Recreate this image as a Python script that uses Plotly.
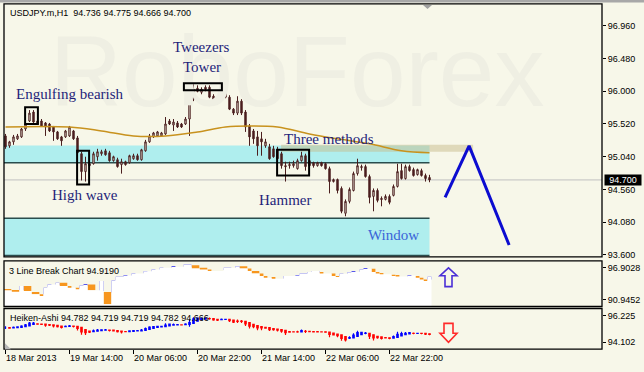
import plotly.graph_objects as go

W, H = 644, 372
BG = "#f7f7e9"
CANDLE = "#4b1e1e"
CYAN = "#afeeee"
TEAL = "#2a4d4d"
FONT = "Liberation Sans, Arial, sans-serif"
SERIF = "Liberation Serif, Times New Roman, serif"


def px(x):
    return x / W


def py(y):
    return 1 - y / H


# ---------------- data ----------------
bar_idx = list(range(107))
open_ = [95.345, 95.200, 95.258, 95.302, 95.331, 95.447, 95.564, 95.695, 95.564, 95.564,
         95.535, 95.520, 95.476, 95.404, 95.331, 95.331, 95.345, 95.418, 95.316, 95.084,
         94.822, 94.938, 94.938, 95.040, 95.084, 95.127, 95.098, 94.982, 94.996, 94.924,
         94.967, 94.953, 95.011, 95.055, 94.996, 95.127, 95.258, 95.331, 95.345, 95.345,
         95.374, 95.564, 95.505, 95.535, 95.520, 95.520, 95.593, 95.884, 96.044, 95.985,
         96.058, 96.058, 95.927, 95.825, 95.913, 95.971, 95.913, 95.738, 95.680, 95.855,
         95.695, 95.491, 95.418, 95.331, 95.302, 95.200, 95.185, 95.156, 95.142, 95.084,
         94.909, 94.909, 94.909, 94.865, 94.982, 95.055, 94.982, 94.953, 94.909, 94.953,
         94.938, 94.865, 94.676, 94.705, 94.575, 94.211, 94.385, 94.545, 94.793, 94.880,
         94.895, 94.749, 94.458, 94.545, 94.429, 94.414, 94.458, 94.473, 94.604, 94.836,
         94.720, 94.895, 94.851, 94.778, 94.836, 94.764, 94.736]
high_ = [95.374, 95.273, 95.360, 95.374, 95.462, 95.564, 95.724, 95.724, 95.593, 95.593,
         95.549, 95.535, 95.491, 95.418, 95.345, 95.433, 95.491, 95.433, 95.345, 95.113,
         95.040, 94.967, 95.113, 95.156, 95.142, 95.156, 95.127, 95.055, 95.025, 95.011,
         94.982, 95.069, 95.084, 95.084, 95.156, 95.287, 95.374, 95.404, 95.418, 95.404,
         95.622, 95.593, 95.593, 95.564, 95.535, 95.622, 95.913, 96.102, 96.087, 96.058,
         96.087, 96.087, 95.956, 95.927, 96.000, 95.985, 95.942, 95.753, 95.927, 95.884,
         95.724, 95.520, 95.447, 95.418, 95.404, 95.302, 95.229, 95.200, 95.185, 95.113,
         94.967, 94.967, 94.982, 95.011, 95.113, 95.084, 95.011, 94.967, 94.967, 94.967,
         94.953, 94.895, 94.720, 94.720, 94.604, 94.414, 94.589, 94.822, 95.011, 94.924,
         94.924, 94.778, 94.575, 94.575, 94.458, 94.487, 94.487, 94.633, 94.938, 94.938,
         94.924, 94.924, 94.880, 94.865, 94.865, 94.793, 94.775]
low_ = [95.156, 95.171, 95.215, 95.287, 95.316, 95.418, 95.549, 95.535, 95.505, 95.476,
        95.345, 95.404, 95.273, 95.287, 95.200, 95.316, 95.331, 95.287, 95.040, 94.691,
        94.676, 94.836, 94.924, 94.982, 95.055, 95.055, 94.967, 94.967, 94.880, 94.792,
        94.909, 94.938, 94.996, 94.982, 94.982, 95.113, 95.244, 95.316, 95.331, 95.331,
        95.360, 95.505, 95.418, 95.462, 95.462, 95.505, 95.345, 95.855, 95.985, 95.956,
        96.000, 95.898, 95.825, 95.811, 95.898, 95.898, 95.724, 95.651, 95.651, 95.651,
        95.404, 95.200, 95.229, 95.055, 95.055, 95.171, 94.996, 95.025, 94.967, 94.865,
        94.676, 94.865, 94.880, 94.851, 94.967, 94.836, 94.895, 94.880, 94.895, 94.895,
        94.851, 94.502, 94.662, 94.502, 94.211, 94.167, 94.356, 94.531, 94.764, 94.836,
        94.734, 94.356, 94.240, 94.371, 94.313, 94.400, 94.342, 94.458, 94.589, 94.705,
        94.705, 94.822, 94.749, 94.764, 94.749, 94.676, 94.666]
close_ = [95.185, 95.258, 95.331, 95.345, 95.447, 95.520, 95.680, 95.549, 95.520, 95.491,
          95.476, 95.418, 95.404, 95.302, 95.273, 95.418, 95.476, 95.302, 95.098, 94.822,
          94.938, 94.909, 95.084, 95.113, 95.113, 95.069, 94.982, 95.040, 94.895, 94.967,
          94.924, 95.055, 95.055, 94.996, 95.142, 95.258, 95.345, 95.389, 95.404, 95.389,
          95.520, 95.520, 95.549, 95.476, 95.476, 95.593, 95.884, 96.029, 96.000, 96.029,
          96.029, 95.913, 95.855, 95.898, 95.942, 95.913, 95.738, 95.680, 95.855, 95.680,
          95.476, 95.331, 95.302, 95.200, 95.258, 95.258, 95.011, 95.040, 95.011, 94.909,
          94.895, 94.924, 94.938, 94.982, 95.055, 94.895, 94.909, 94.909, 94.953, 94.909,
          94.865, 94.676, 94.705, 94.545, 94.240, 94.385, 94.560, 94.793, 94.909, 94.895,
          94.749, 94.444, 94.545, 94.400, 94.414, 94.458, 94.371, 94.604, 94.822, 94.720,
          94.895, 94.836, 94.764, 94.851, 94.764, 94.720, 94.700]

ma_idx = [0, 16, 24, 32, 40, 48, 55, 61, 68, 76, 83, 91, 99, 106]
ma_val = [95.476, 95.476, 95.418, 95.345, 95.345, 95.404, 95.476, 95.491, 95.476,
          95.374, 95.302, 95.229, 95.127, 95.098]

zone_sr = [94.953, 95.205]
zone_window = [93.593, 94.138]
zone_tan = [95.113, 95.215]
zone_tan_idx = [68.9, 116.9]
zone_end_idx = 106.0
last_price = 94.700

zig_idx = [109.9, 115.9, 125.9]
zig_val = [94.444, 95.200, 93.745]

price_ticks = [93.600, 94.080, 94.560, 95.040, 95.520, 96.000, 96.480, 96.960]
lb_ticks = [90.9452, 96.9028]
ha_ticks = [94.102, 96.225]

time_idx = [0, 16, 32, 48, 64, 80, 96]
time_txt = ["18 Mar 2013", "19 Mar 14:00", "20 Mar 06:00", "20 Mar 22:00",
            "21 Mar 14:00", "22 Mar 06:00", "22 Mar 22:00"]

# 3 Line Break bricks
lb_start = [0, 2, 4, 5, 7, 9, 10, 11, 13, 14, 16, 18, 19, 20, 21, 24, 25, 27, 28, 30,
            32, 35, 37, 39, 42, 45, 47, 49, 51, 55, 58, 59, 61, 62, 64, 65, 67, 70, 73, 74,
            76, 77, 79, 82, 83, 84, 86, 87, 89, 90, 92, 93, 94, 97, 98, 101, 103, 104, 105, 106]
lb_end = [1, 3, 4, 6, 8, 9, 10, 11, 13, 15, 16, 18, 19, 20, 22, 24, 26, 27, 29, 30,
          32, 35, 37, 39, 42, 46, 48, 50, 51, 56, 58, 60, 61, 63, 64, 65, 67, 70, 73, 75,
          76, 78, 79, 82, 83, 84, 86, 87, 89, 90, 92, 93, 94, 97, 98, 101, 103, 104, 105, 106]
lb_hi = [92.902, 92.717, 93.528, 93.528, 92.422, 91.980, 93.215, 93.824, 94.137, 94.137,
         93.528, 93.215, 93.639, 93.768, 93.824, 94.450, 92.422, 94.561, 95.243, 95.483,
         95.852, 96.258, 96.590, 96.903, 97.087, 97.512, 97.401, 96.903, 96.590, 96.903,
         97.216, 97.216, 96.774, 96.294, 95.852, 95.373, 95.059, 95.373, 95.483, 95.852,
         96.110, 96.294, 96.110, 95.852, 95.373, 95.797, 96.073, 96.165, 96.590, 96.719,
         96.719, 96.110, 95.889, 95.612, 95.428, 95.483, 95.243, 95.059, 94.745, 95.243]
lb_lo = [92.717, 92.477, 92.791, 92.606, 91.980, 91.685, 91.980, 93.399, 93.824, 93.528,
         93.215, 92.902, 93.086, 93.639, 92.717, 92.606, 90.135, 92.293, 94.561, 95.243,
         95.483, 95.852, 96.258, 96.590, 96.903, 97.216, 96.774, 96.590, 96.294, 96.479,
         96.903, 96.774, 96.294, 95.852, 95.373, 95.059, 94.875, 94.875, 95.373, 95.557,
         95.852, 96.110, 95.852, 95.373, 95.188, 95.483, 95.889, 95.981, 96.294, 96.534,
         96.110, 95.852, 95.704, 95.373, 95.299, 95.243, 95.059, 94.745, 94.450, 94.745]
lb_up = [0, 0, 1, 0, 0, 0, 1, 1, 1, 0, 0, 0, 1, 1, 0, 1, 0, 1, 1, 1,
         1, 1, 1, 1, 1, 1, 0, 0, 0, 1, 1, 0, 0, 0, 0, 0, 0, 1, 1, 1,
         1, 1, 0, 0, 0, 1, 1, 1, 1, 1, 0, 0, 0, 0, 0, 1, 0, 0, 0, 1]

# ---------------- Heiken-Ashi from the price data ----------------
ha_open, ha_close, ha_high, ha_low = [], [], [], []
for i in range(len(bar_idx)):
    c = (open_[i] + high_[i] + low_[i] + close_[i]) / 4
    o = (open_[i] + close_[i]) / 2 if i == 0 else (ha_open[-1] + ha_close[-1]) / 2
    ha_open.append(o)
    ha_close.append(c)
    ha_high.append(max(high_[i], o, c))
    ha_low.append(min(low_[i], o, c))

fig = go.Figure()

# watermark (very faint, behind everything)
fig.add_trace(go.Scatter(x=[72.9], y=[96.15], mode="text", text=["RoboForex"],
                         textposition="middle center",
                         textfont=dict(size=100, color="#efefe3", family=FONT),
                         hoverinfo="skip", xaxis="x", yaxis="y"))

# moving average
fig.add_trace(go.Scatter(x=ma_idx, y=ma_val, mode="lines", line=dict(color="#c8921e", width=1.5, shape="spline"),
                         hoverinfo="skip", xaxis="x", yaxis="y"))

# main candles
fig.add_trace(go.Candlestick(x=bar_idx, open=open_, high=high_, low=low_, close=close_,
                             increasing=dict(line=dict(color=CANDLE, width=1), fillcolor=BG),
                             decreasing=dict(line=dict(color=CANDLE, width=1), fillcolor=CANDLE),
                             whiskerwidth=0, xaxis="x", yaxis="y", hoverinfo="skip"))

# forecast zigzag
fig.add_trace(go.Scatter(x=zig_idx, y=zig_val, mode="lines", line=dict(color="#0c0cd0", width=3),
                         hoverinfo="skip", xaxis="x", yaxis="y"))

# 3 line break: white area under the current level
lvl_x, lvl_y = [], []
for s, hi, lo, up in zip(lb_start, lb_hi, lb_lo, lb_up):
    lvl_x.append(s - 0.5)
    lvl_y.append(hi if up else lo)
lvl_x.append(lb_end[-1] + 0.5)
lvl_y.append(lvl_y[-1])
fig.add_trace(go.Scatter(x=lvl_x, y=lvl_y, mode="lines", line=dict(width=0, shape="hv"),
                         fill="tozeroy", fillcolor="white", hoverinfo="skip", xaxis="x", yaxis="y2"))

fig.add_trace(go.Bar(x=[(s + e) / 2 for s, e in zip(lb_start, lb_end)],
                     width=[(e - s + 1) * 0.95 for s, e in zip(lb_start, lb_end)],
                     base=lb_lo, y=[h - l for h, l in zip(lb_hi, lb_lo)],
                     marker=dict(color=["#1f1fe6" if u else "#f7961e" for u in lb_up], line=dict(width=0)),
                     hoverinfo="skip", xaxis="x", yaxis="y2"))

# Heiken Ashi
fig.add_trace(go.Candlestick(x=bar_idx, open=ha_open, high=ha_high, low=ha_low, close=ha_close,
                             increasing=dict(line=dict(color="#0000ff", width=1.2), fillcolor="#0000ff"),
                             decreasing=dict(line=dict(color="#ff0000", width=1.2), fillcolor="#ff0000"),
                             whiskerwidth=0, xaxis="x", yaxis="y3", hoverinfo="skip"))

shapes = []
# zones
shapes.append(dict(type="rect", xref="x", yref="y", x0=-0.5, x1=zone_end_idx, y0=zone_sr[0], y1=zone_sr[1],
                   fillcolor=CYAN, line=dict(width=0), layer="below"))
shapes.append(dict(type="rect", xref="x", yref="y", x0=-0.5, x1=zone_end_idx, y0=zone_window[0], y1=zone_window[1],
                   fillcolor=CYAN, line=dict(width=0), layer="below"))
shapes.append(dict(type="rect", xref="x", yref="y", x0=zone_tan_idx[0], x1=zone_tan_idx[1], y0=zone_tan[0], y1=zone_tan[1],
                   fillcolor="rgba(200,188,140,0.5)", line=dict(width=0), layer="below"))
for yv in [zone_sr[0], zone_window[0], zone_window[1]]:
    shapes.append(dict(type="line", xref="x", yref="y", x0=-0.5, x1=zone_end_idx, y0=yv, y1=yv,
                       line=dict(color=TEAL, width=1.5), layer="below"))
shapes.append(dict(type="line", xref="paper", yref="y", x0=px(4), x1=px(602), y0=last_price, y1=last_price,
                   line=dict(color="#c0c0c0", width=1), layer="below"))

# pattern boxes
for x0, x1, y0, y1 in [(4.9, 8.1, 95.520, 95.767), (44.6, 54.1, 96.015, 96.116),
                       (17.9, 20.9, 94.633, 95.127), (67.9, 75.9, 94.764, 95.142)]:
    shapes.append(dict(type="rect", xref="x", yref="y", x0=x0, x1=x1, y0=y0, y1=y1,
                       line=dict(color="black", width=2), fillcolor="rgba(0,0,0,0)", layer="above"))

# panel frames
for top, bot in [(4, 259), (263, 309), (311, 352)]:
    shapes.append(dict(type="rect", xref="paper", yref="paper", x0=px(4), x1=px(602), y0=py(bot), y1=py(top),
                       line=dict(color="black", width=1.3), fillcolor="rgba(0,0,0,0)", layer="above"))
shapes.append(dict(type="rect", xref="paper", yref="paper", x0=0, x1=1, y0=py(2.5), y1=1,
                   line=dict(width=0), fillcolor="#a8a8a8", layer="above"))


def ppath(points):
    return "M " + " L ".join(f"{px(x):.5f},{py(y):.5f}" for x, y in points) + " Z"


shapes.append(dict(type="path", xref="paper", yref="paper",
                   path=ppath([(448.5, 270), (457, 278), (452, 278), (452, 289), (445, 289), (445, 278), (440, 278)]),
                   line=dict(color="#4a2fd6", width=1.6), fillcolor="rgba(0,0,0,0)", layer="above"))
shapes.append(dict(type="path", xref="paper", yref="paper",
                   path=ppath([(444, 326), (453, 326), (453, 336), (457, 336), (448.5, 345), (440, 336), (444, 336)]),
                   line=dict(color="#ff2a2a", width=1.6), fillcolor="rgba(0,0,0,0)", layer="above"))
shapes.append(dict(type="path", xref="paper", yref="paper", path=ppath([(423, 5), (432, 5), (427.5, 9)]),
                   line=dict(width=0), fillcolor="#a0a0a0", layer="above"))
shapes.append(dict(type="path", xref="paper", yref="paper", path=ppath([(5, 346), (5, 352), (11, 352)]),
                   line=dict(width=0), fillcolor="#b8b8b8", layer="above"))

annotations = []
NAVY = "#1f1f7a"
for txt, x, y, anchor, col in [("Engulfing bearish", 2.1, 95.956, "left", NAVY),
                               ("Tweezers", 49.1, 96.654, "center", NAVY),
                               ("Tower", 49.0, 96.349, "center", NAVY),
                               ("High wave", 19.9, 94.473, "center", NAVY),
                               ("Three methods", 80.75, 95.302, "center", NAVY),
                               ("Hammer", 69.75, 94.400, "center", NAVY),
                               ("Window", 96.9, 93.891, "center", "#3a64d8")]:
    annotations.append(dict(text=txt, x=x, y=y, xref="x", yref="y", xanchor=anchor, yanchor="middle",
                            showarrow=False, font=dict(family=SERIF, size=15, color=col)))

annotations.append(dict(text="USDJPY.m,H1  94.736 94.775 94.666 94.700", x=px(8), y=py(13), xref="paper", yref="paper",
                        xanchor="left", yanchor="middle", showarrow=False, font=dict(family=FONT, size=9, color="black")))
annotations.append(dict(text="3 Line Break Chart 94.9190", x=px(7), y=py(273), xref="paper", yref="paper",
                        xanchor="left", yanchor="middle", showarrow=False, font=dict(family=FONT, size=9, color="black")))
annotations.append(dict(text="Heiken-Ashi 94.782 94.719 94.719 94.782 94.666", x=px(8), y=py(321), xref="paper", yref="paper",
                        xanchor="left", yanchor="middle", showarrow=False, font=dict(family=FONT, size=9, color="black")))
annotations.append(dict(text=f"{last_price:.3f}", x=px(603.5), y=last_price, xref="paper", yref="y",
                        xanchor="left", yanchor="middle", showarrow=False, bgcolor="black", borderpad=0,
                        width=36, height=10, font=dict(family=FONT, size=9, color="white")))
for ti, tt in zip(time_idx, time_txt):
    annotations.append(dict(text=tt, x=ti, y=py(361), xref="x", yref="paper", xanchor="left", yanchor="middle",
                            xshift=-2, showarrow=False, font=dict(family=FONT, size=9, color="black")))

yax_common = dict(side="right", anchor="x", showgrid=False, zeroline=False, showline=False, ticks="outside",
                  ticklen=3, tickcolor="black", tickmode="array", fixedrange=True,
                  tickfont=dict(family=FONT, size=9, color="black"))

fig.update_layout(
    width=W, height=H, autosize=False, margin=dict(l=0, r=0, t=0, b=0),
    paper_bgcolor=BG, plot_bgcolor=BG, showlegend=False, boxgap=0.5, barmode="overlay",
    xaxis=dict(domain=[px(4), px(602)], range=[-0.375, 149.125], anchor="y3", showgrid=False, zeroline=False,
               showline=False, showticklabels=False, ticks="outside", ticklen=4, tickcolor="black",
               tickmode="array", tickvals=time_idx, rangeslider=dict(visible=False), fixedrange=True),
    yaxis=dict(domain=[py(259), py(4)], range=[93.571, 97.28], tickvals=price_ticks,
               ticktext=[f"{v:.3f}" for v in price_ticks], **yax_common),
    yaxis2=dict(domain=[py(309), py(263)], range=[89.711, 98.194], tickvals=lb_ticks,
                ticktext=[f"{v:.4f}" for v in lb_ticks], **yax_common),
    yaxis3=dict(domain=[py(352), py(311)], range=[93.545, 96.805], tickvals=ha_ticks,
                ticktext=[f"{v:.3f}" for v in ha_ticks], **yax_common),
    shapes=shapes, annotations=annotations,
)

fig.write_html("out.html")
